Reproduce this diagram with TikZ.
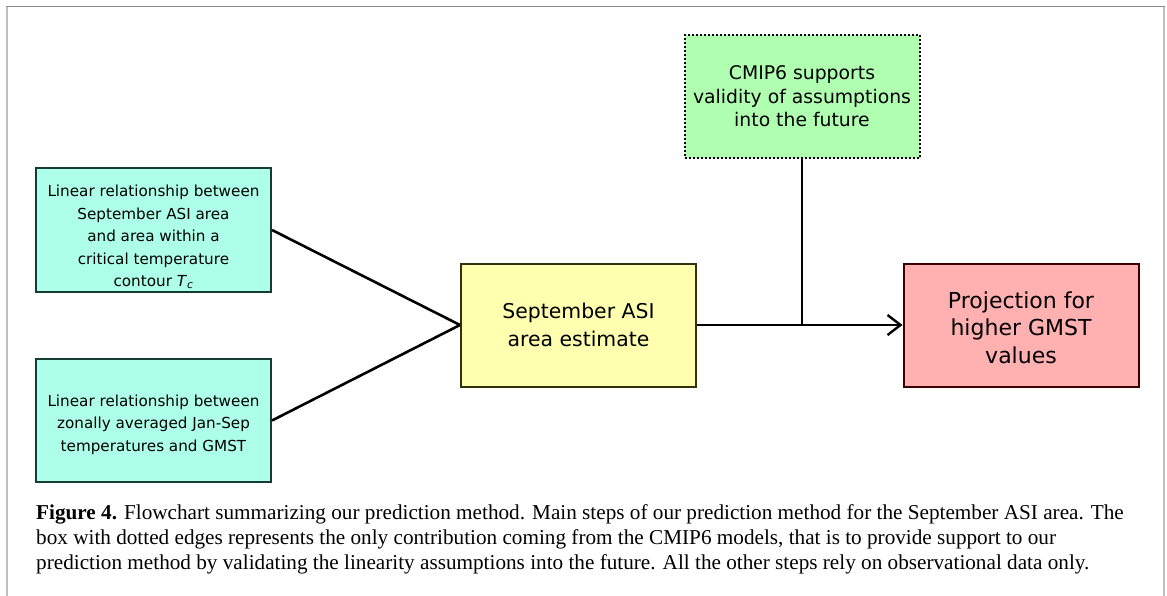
\documentclass[tikz,border=0pt]{standalone}
\usepackage{fontspec}
\setmainfont{Liberation Serif}
\newfontfamily\boxfont{DejaVu Sans}
\usetikzlibrary{arrows.meta}
\definecolor{relfill}{RGB}{174,255,234}
\definecolor{reledge}{RGB}{20,60,50}
\definecolor{estfill}{RGB}{255,255,176}
\definecolor{estedge}{RGB}{50,50,10}
\definecolor{cmipfill}{RGB}{176,255,176}
\definecolor{projfill}{RGB}{255,176,176}
\definecolor{projedge}{RGB}{60,0,0}
\tikzset{
  flowbox/.style={rectangle, minimum width=235pt, minimum height=123pt,
    inner sep=0pt, align=center, line width=2pt, font=\boxfont},
  relbox/.style={flowbox, fill=relfill, draw=reledge,
    font=\boxfont\fontsize{15.2}{22.4}\selectfont},
  estbox/.style={flowbox, fill=estfill, draw=estedge,
    font=\boxfont\fontsize{20.4}{28}\selectfont},
  cmipbox/.style={flowbox, fill=cmipfill, draw=black, dotted,
    font=\boxfont\fontsize{18.8}{23.5}\selectfont},
  projbox/.style={flowbox, fill=projfill, draw=projedge,
    font=\boxfont\fontsize{22}{27.5}\selectfont},
}
\begin{document}
\begin{tikzpicture}[x=1pt,y=-1pt]
      \useasboundingbox (0,0) rectangle (1167,596);
      % frame
      \draw[line width=2pt, black!25] (7,596) -- (7,6.5);
      \draw[line width=2pt, black!25] (1163.5,6.5) -- (1163.5,596);
      \draw[line width=1.5pt, black!45] (6,6.5) -- (1164.5,6.5);
      \draw
        (153.5,230) node[relbox] (tc){\parbox{230pt}{\centering\vspace*{14pt}Linear relationship between\\September ASI area\\and area within a\\critical temperature\\contour \textit{T}\textsubscript{\textit{c}}}}
        (153.5,420.5) node[relbox] (zonal){\parbox{230pt}{\centering\vspace*{8pt}Linear relationship between\\zonally averaged Jan-Sep\\temperatures and GMST}}
        (578.5,325) node[estbox] (est){September ASI\\area estimate}
        (802,96.5) node[cmipbox] (cmip){CMIP6 supports\\validity of assumptions\\into the future}
        (1021,325) node[projbox] (proj){\parbox{230pt}{\centering\vspace*{5pt}Projection for\\higher GMST\\values}};
      \coordinate (join) at (cmip.south |- est.east);
      \begin{scope}[line width=2.6pt]
        \draw (tc.east) to (est.west);
        \draw (zonal.east) to (est.west);
        \draw[-{Straight Barb[length=13pt,width=20pt,line width=2.4pt]}] (est.east) to (proj.west);
        \draw (cmip.south) to (join);
      \end{scope}
      \node[anchor=base west, align=left, inner sep=0pt,
        font=\fontsize{21.2}{25}\selectfont] (caption) at (36,569)
        {\textbf{Figure 4.} Flowchart summarizing our prediction method. Main steps of our prediction method for the September ASI area. The\\
         box with dotted edges represents the only contribution coming from the CMIP6 models, that is to provide support to our\\
         prediction method by validating the linearity assumptions into the future. All the other steps rely on observational data only.};
    \end{tikzpicture}
\end{document}
